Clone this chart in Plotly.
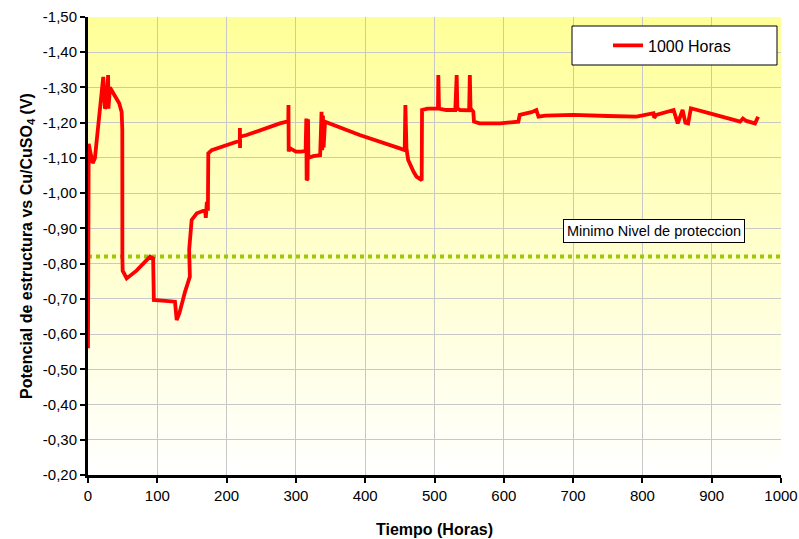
import plotly.graph_objects as go

# ---- data ----
tiempo = [0, 0.5, 1, 3, 6.8, 10, 22, 24.5, 27, 29, 29.5, 31.7, 40, 45, 48.6, 49.5, 49.6, 50, 55.8,
          70, 89.5, 94, 95, 125.5, 128, 132, 140, 147, 146, 149.6, 157, 165, 169, 170, 171.5, 173,
          173.6, 178.5, 200, 214.5, 219, 219.2, 219.4, 219.6, 229, 250, 277, 286.7, 289, 289.3,
          289.6, 290, 290.5, 291.7, 300, 308, 314, 315, 315.5, 316, 316.8, 317.5, 318, 325, 335,
          337, 338, 339, 340, 342, 350, 392, 450, 457, 458, 458.5, 459, 459.5, 460, 462, 470, 474,
          481.5, 482, 490, 498, 505, 505.5, 506.5, 517, 530, 532, 533, 537, 550, 551, 552, 556,
          557, 565, 594.5, 621, 622, 623, 640, 647, 650, 660, 700, 720, 750, 791.6, 800, 816, 817,
          820, 845, 848, 851, 858, 862, 866, 870, 900, 930, 941, 945, 950, 962.5, 965, 967]
potencial = [-0.56, -0.80, -1.14, -1.12, -1.085, -1.10, -1.33, -1.24, -1.25, -1.335, -1.24, -1.30,
             -1.27, -1.255, -1.23, -1.18, -0.82, -0.78, -0.758,
             -0.78, -0.820, -0.815, -0.697, -0.692, -0.64, -0.66, -0.72, -0.763, -0.84, -0.924,
             -0.943, -0.95, -0.952, -0.93, -0.975, -0.95,
             -1.113, -1.122, -1.135, -1.146, -1.15, -1.185, -1.128, -1.16, -1.165, -1.18, -1.198,
             -1.203, -1.203, -1.25,
             -1.118, -1.24, -1.125, -1.127, -1.118, -1.118, -1.12, -1.212, -1.037, -1.21, -1.04,
             -1.21, -1.10, -1.105, -1.108,
             -1.231, -1.122, -1.22, -1.13, -1.203, -1.197, -1.165, -1.127, -1.122, -1.25, -1.14,
             -1.24, -1.13, -1.12, -1.094, -1.06, -1.047,
             -1.037, -1.236, -1.24, -1.241, -1.24, -1.335, -1.24, -1.236, -1.236, -1.335, -1.24,
             -1.236, -1.235, -1.335, -1.24, -1.231,
             -1.203, -1.198, -1.198, -1.203, -1.215, -1.222, -1.23, -1.236, -1.217, -1.22, -1.222,
             -1.22, -1.219, -1.217, -1.22, -1.227, -1.214,
             -1.222, -1.236, -1.22, -1.198, -1.236, -1.20, -1.198, -1.241, -1.225, -1.21, -1.203,
             -1.212, -1.205, -1.198, -1.21, -1.217]
serie_nombre = "1000 Horas"
nivel_minimo = -0.82
nivel_texto = "Minimo Nivel de proteccion"

x_ticks = [0, 100, 200, 300, 400, 500, 600, 700, 800, 900, 1000]
y_ticks = [-1.50, -1.40, -1.30, -1.20, -1.10, -1.00, -0.90, -0.80, -0.70, -0.60, -0.50, -0.40,
           -0.30, -0.20]
y_ticktext = ["-1,50", "-1,40", "-1,30", "-1,20", "-1,10", "-1,00", "-0,90", "-0,80", "-0,70",
              "-0,60", "-0,50", "-0,40", "-0,30", "-0,20"]

FONT = "Liberation Sans, Arial, sans-serif"

fig = go.Figure()

fig.add_trace(go.Scatter(
    x=[x_ticks[0], x_ticks[-1]], y=[nivel_minimo, nivel_minimo], mode="lines",
    line=dict(color="#99CC00", width=4, dash="dot"), showlegend=False, hoverinfo="skip"))

fig.add_trace(go.Scatter(
    x=tiempo, y=potencial, mode="lines", name=serie_nombre,
    line=dict(color="#FF0000", width=3.8)))

# gradient background bands (yellow top -> white bottom)
shapes = []
N = 90
for i in range(N):
    f = i / (N - 1)  # 0 at bottom, 1 at top
    b = int(round(255 - (255 - 153) * f))
    shapes.append(dict(type="rect", xref="x domain", yref="y domain",
                       x0=0, x1=1, y0=i / N, y1=min(1, (i + 1) / N + 0.003),
                       fillcolor=f"rgb(255,255,{b})", line=dict(width=0), layer="below"))

# layout geometry in pixels
W, H = 799, 539
L, R, T, B = 88, 18, 17, 64
pw, ph = W - L - R, H - T - B
def px(xp):
    return (xp - L) / pw
def py(yp):
    return (H - B - yp) / ph

# legend box
shapes.append(dict(type="rect", xref="paper", yref="paper",
                   x0=px(572), x1=px(777), y0=py(65), y1=py(26),
                   fillcolor="white", line=dict(color="black", width=1), layer="above"))

fig.update_layout(
    width=W, height=H, autosize=False,
    margin=dict(l=L, r=R, t=T, b=B, autoexpand=False),
    paper_bgcolor="white", plot_bgcolor="white",
    font=dict(family=FONT, size=15, color="black"),
    shapes=shapes,
    showlegend=True,
    legend=dict(x=px(608), y=py(45.5), xanchor="left", yanchor="middle",
                bgcolor="rgba(0,0,0,0)", borderwidth=0,
                font=dict(family=FONT, size=16, color="black")),
    xaxis=dict(range=[0, 1000], tickvals=x_ticks, showgrid=True, gridcolor="#C8C8C8",
               gridwidth=1, zeroline=False, showline=True, linecolor="black", linewidth=3,
               ticks="outside", ticklen=5, tickwidth=2, tickcolor="black", automargin=False,
               tickfont=dict(size=15),
               title=dict(text="<b>Tiempo (Horas)</b>", font=dict(size=16), standoff=21)),
    yaxis=dict(range=[-0.2, -1.5], tickvals=y_ticks, ticktext=y_ticktext, showgrid=True,
               gridcolor="#C8C8C8", gridwidth=1, zeroline=False, showline=True,
               linecolor="black", linewidth=3, ticks="outside", ticklen=5, tickwidth=2,
               tickcolor="black", tickfont=dict(size=15), automargin=False,
               title=dict(text="<b>Potencial de estructura vs Cu/CuSO<sub>4</sub> (V)</b>",
                          font=dict(size=16), standoff=7)),
    annotations=[dict(x=817, y=-0.892, xref="x", yref="y", text=nivel_texto, showarrow=False,
                      font=dict(family=FONT, size=14.5, color="black"), bgcolor="white",
                      bordercolor="black", borderwidth=1, borderpad=3)],
)

fig.write_html("out.html")
